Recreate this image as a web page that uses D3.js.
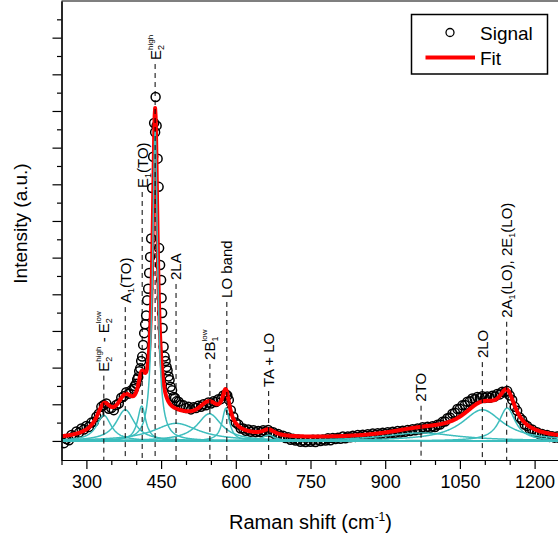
<!DOCTYPE html>
<html>
<head>
<meta charset="utf-8">
<script src="https://cdn.jsdelivr.net/npm/d3@7"></script>
<style>
  body { margin: 0; background: #fff; }
  svg { display: block; font-family: Arial, "Liberation Sans", sans-serif; }
</style>
</head>
<body>
<svg id="chart" width="558" height="541"></svg>
<script>
// measured spectrum (Raman shift in cm-1, intensity in a.u.)
var shift = [255, 260, 265, 270, 275, 280, 285, 290, 295, 300, 305, 310, 315, 320, 325, 330, 335, 340, 345, 350,
  355, 360, 365, 370, 375, 380, 385, 390, 395, 397, 400, 402, 404, 406, 408, 410, 412, 414, 416, 418,
  420, 422, 424, 426, 428, 430, 432, 434, 436, 438, 439, 441, 443, 445, 446, 448, 450, 451, 452, 453,
  455, 457, 459, 461, 463, 465, 467, 469, 472, 475, 478, 481, 485, 490, 495, 500, 505, 510, 515, 520,
  525, 530, 535, 540, 545, 550, 555, 560, 565, 570, 575, 580, 583, 586, 590, 595, 600, 605, 610, 615,
  620, 625, 630, 635, 640, 645, 650, 655, 660, 665, 670, 675, 680, 685, 690, 695, 700, 705, 710, 715,
  720, 725, 730, 735, 740, 745, 750, 755, 760, 765, 770, 775, 780, 785, 790, 795, 800, 805, 810, 815,
  820, 825, 830, 835, 840, 845, 850, 855, 860, 865, 870, 875, 880, 885, 890, 895, 900, 905, 910, 915,
  920, 925, 930, 935, 940, 945, 950, 955, 960, 965, 970, 975, 980, 985, 990, 995, 1000, 1005, 1010, 1015,
  1020, 1025, 1030, 1035, 1040, 1045, 1050, 1055, 1060, 1065, 1070, 1075, 1080, 1085, 1090, 1095, 1100, 1105, 1110, 1115,
  1120, 1125, 1130, 1135, 1140, 1145, 1150, 1155, 1160, 1165, 1170, 1175, 1180, 1185, 1190, 1195, 1200, 1205, 1210, 1215,
  1220, 1225, 1230, 1235, 1240, 1245, 1250];
var signal = [-0.06, 0.05, 0.02, 0.16, 0.13, 0.26, 0.22, 0.34, 0.31, 0.41, 0.38, 0.5, 0.52, 0.66, 0.74, 0.93, 0.98, 1.02, 0.88, 0.9,
  0.84, 0.98, 1.02, 1.18, 1.22, 1.33, 1.29, 1.38, 1.42, 1.5, 1.56, 1.68, 1.74, 1.9, 1.98, 2.18, 2.3, 2.62, 2.94, 3.18,
  3.42, 3.84, 4.15, 4.58, 5.02, 5.52, 6.9, 7.75, 8.67, 8.42, 9.38, 8.6, 7.7, 6.93, 5.26, 4.8, 4.39, 3.9, 3.49, 3.08,
  2.57, 2.3, 2.18, 2.02, 1.92, 1.76, 1.66, 1.48, 1.38, 1.2, 1.17, 1.08, 1.07, 0.98, 0.97, 0.9, 0.93, 0.86, 0.92, 0.9,
  0.96, 0.93, 1.0, 0.97, 1.05, 1.02, 1.08, 1.06, 1.14, 1.14, 1.24, 1.27, 1.24, 1.12, 0.84, 0.66, 0.5, 0.45, 0.34, 0.34,
  0.28, 0.31, 0.25, 0.29, 0.24, 0.27, 0.24, 0.29, 0.26, 0.3, 0.24, 0.24, 0.17, 0.19, 0.13, 0.14, 0.08, 0.1, 0.03, 0.06,
  0.01, 0.04, -0.02, 0.01, -0.03, 0.02, -0.02, 0.03, -0.03, 0.03, 0.0, 0.04, 0.01, 0.07, 0.02, 0.08, 0.05, 0.09, 0.06, 0.12,
  0.07, 0.12, 0.1, 0.14, 0.11, 0.16, 0.12, 0.17, 0.14, 0.18, 0.15, 0.2, 0.16, 0.21, 0.18, 0.22, 0.19, 0.24, 0.2, 0.25,
  0.22, 0.27, 0.23, 0.28, 0.25, 0.3, 0.27, 0.32, 0.29, 0.34, 0.31, 0.37, 0.34, 0.39, 0.36, 0.4, 0.38, 0.44, 0.45, 0.52,
  0.53, 0.62, 0.64, 0.74, 0.77, 0.87, 0.88, 0.97, 0.98, 1.07, 1.08, 1.16, 1.14, 1.2, 1.17, 1.22, 1.17, 1.21, 1.18, 1.23,
  1.21, 1.28, 1.27, 1.34, 1.33, 1.36, 1.24, 1.12, 0.93, 0.82, 0.64, 0.57, 0.45, 0.41, 0.32, 0.31, 0.24, 0.24, 0.18, 0.19,
  0.14, 0.16, 0.11, 0.13, 0.09, 0.12, 0.08];

// fitted Lorentzian components: centre (cm-1), height (a.u.), FWHM (cm-1)
var peakCentre = [335, 378, 411, 438, 480, 547, 580, 666, 972, 1095, 1145];
var peakHeight = [0.7, 0.85, 0.95, 8.45, 0.48, 0.74, 0.89, 0.16, 0.22, 0.85, 0.9];
var peakWidth = [36, 45, 20, 12, 110, 60, 18, 30, 180, 100, 40];
var fitOffset = 0.02;

// mode assignments: position, height of label foot (a.u.), text parts
var modeShift = [335, 378, 412, 438, 480, 548, 582, 666, 972, 1095, 1144];
var modeLabelAt = [1.89, 3.76, 6.9, 10.39, 4.39, 2.21, 3.9, 1.47, 1.07, 2.26, 3.36];
var modeText = [
  [["E", "n"], ["2", "sub"], ["high", "sup"], [" - E", "n"], ["2", "sub"], ["low", "sup"]],
  [["A", "n"], ["1", "sub"], ["(TO)", "n"]],
  [["E", "n"], ["1", "sub"], ["(TO)", "n"]],
  [["E", "n"], ["2", "sub"], ["high", "sup"]],
  [["2LA", "n"]],
  [["2B", "n"], ["1", "sub"], ["low", "sup"]],
  [["LO band", "n"]],
  [["TA + LO", "n"]],
  [["2TO", "n"]],
  [["2LO", "n"]],
  [["2A", "n"], ["1", "sub"], ["(LO), 2E", "n"], ["1", "sub"], ["(LO)", "n"]]
];

// axis ticks
var xMajor = [300, 450, 600, 750, 900, 1050, 1200];
var xMinor = [250, 350, 400, 500, 550, 650, 700, 800, 850, 950, 1000, 1100, 1150, 1250];
var yMajor = [0, 1, 2, 3, 4, 5, 6, 7, 8, 9, 10, 11];
var yMinor = [0.5, 1.5, 2.5, 3.5, 4.5, 5.5, 6.5, 7.5, 8.5, 9.5, 10.5, 11.5];

var cyan = "#3dbdbd";

// scales
var x = d3.scaleLinear().domain([250, 1250]).range([61.5, 559.5]);
var y = d3.scaleLinear().domain([-0.52, 12]).range([460, 1]);

var svg = d3.select("#chart");

svg.append("clipPath")
  .attr("id", "plot-clip")
  .append("rect")
  .attr("x", x(250)).attr("y", y(12))
  .attr("width", x(1250) - x(250)).attr("height", y(-0.52) - y(12));

// components and fit evaluated on a 1 cm-1 grid
var grid = d3.range(250, 1250.5, 1);
function lorentz(k, v) {
  var h = peakWidth[k] / 2;
  return peakHeight[k] / (1 + ((v - peakCentre[k]) / h) * ((v - peakCentre[k]) / h));
}
var fit = grid.map(function(v) {
  return [v, fitOffset + d3.sum(peakCentre, function(c, k) { return lorentz(k, v); })];
});

var plot = svg.append("g").attr("clip-path", "url(#plot-clip)");

// signal circles
plot.append("g")
  .selectAll("circle")
  .data(shift)
  .enter()
  .append("circle")
  .attr("cx", function(d) { return x(d); })
  .attr("cy", function(d, i) { return y(signal[i]); })
  .attr("r", 4.5)
  .attr("fill", "none")
  .attr("stroke", "#000")
  .attr("stroke-width", 1.5);

var line = d3.line()
  .x(function(d) { return x(d[0]); })
  .y(function(d) { return y(d[1]); });

// fit
plot.append("path")
  .datum(fit)
  .attr("d", line)
  .attr("fill", "none")
  .attr("stroke", "#ff0000")
  .attr("stroke-width", 4)
  .attr("stroke-linejoin", "round");

// baseline + components
plot.append("path")
  .datum([[250, 0], [1250, 0]])
  .attr("d", line)
  .attr("fill", "none")
  .attr("stroke", cyan)
  .attr("stroke-width", 1.6);

plot.append("g")
  .selectAll("path")
  .data(peakCentre)
  .enter()
  .append("path")
  .attr("d", function(c, k) {
    return line(grid.map(function(v) { return [v, lorentz(k, v)]; }));
  })
  .attr("fill", "none")
  .attr("stroke", cyan)
  .attr("stroke-width", 1.5);

// mode markers
var modes = svg.append("g");
modeShift.forEach(function(s, i) {
  modes.append("line")
    .attr("x1", x(s)).attr("x2", x(s))
    .attr("y1", y(modeLabelAt[i]) + 4).attr("y2", y(-0.52))
    .attr("stroke", "#000")
    .attr("stroke-width", 1)
    .attr("stroke-dasharray", "5,4");

  var text = modes.append("text")
    .attr("font-size", 15)
    .attr("transform", "translate(" + (x(s) + 5.4) + "," + y(modeLabelAt[i]) + ") rotate(-90)");
  var level = 0, lastSub = null;
  modeText[i].forEach(function(p) {
    var t = text.append("tspan").text(p[0]);
    var target = p[1] === "sub" ? 3 : (p[1] === "sup" ? -8 : 0);
    if (p[1] === "sub") t.attr("font-size", 9);
    if (p[1] === "sup") t.attr("font-size", 8);
    t.attr("dy", target - level);
    level = target;
    if (p[1] === "sup" && lastSub) t.attr("dx", -lastSub.node().getComputedTextLength());
    lastSub = p[1] === "sub" ? t : null;
  });
});

// axes
var xAxis = svg.append("g")
  .attr("transform", "translate(0," + y(-0.52) + ")")
  .call(d3.axisBottom(x).tickValues(xMajor).tickFormat(d3.format("d"))
    .tickSize(9).tickSizeOuter(0).tickPadding(6));
svg.append("g")
  .attr("transform", "translate(0," + y(-0.52) + ")")
  .call(d3.axisBottom(x).tickValues(xMinor).tickSize(5).tickSizeOuter(0).tickFormat(""));
svg.append("g")
  .attr("transform", "translate(" + x(250) + ",0)")
  .call(d3.axisLeft(y).tickValues(yMajor).tickSize(9).tickSizeOuter(0).tickFormat(""));
svg.append("g")
  .attr("transform", "translate(" + x(250) + ",0)")
  .call(d3.axisLeft(y).tickValues(yMinor).tickSize(4.5).tickSizeOuter(0).tickFormat(""));

svg.selectAll(".domain, .tick line").attr("stroke", "#000").attr("stroke-width", 1.2);
xAxis.selectAll("text")
  .attr("font-size", 18)
  .attr("font-family", "Arial, 'Liberation Sans', sans-serif")
  .attr("fill", "#000");

// top frame
svg.append("line")
  .attr("x1", x(250)).attr("x2", x(1250))
  .attr("y1", y(12)).attr("y2", y(12))
  .attr("stroke", "#000")
  .attr("stroke-width", 1.2);

// x label
var xLabel = svg.append("text")
  .attr("x", (x(250) + x(1250)) / 2)
  .attr("y", 529)
  .attr("text-anchor", "middle")
  .attr("font-size", 20)
  .text("Raman shift (cm");
xLabel.append("tspan").attr("font-size", 12).attr("dy", -8).text("-1");
xLabel.append("tspan").attr("dy", 8).text(")");

// y label
svg.append("text")
  .attr("transform", "translate(27," + ((y(12) + y(-0.52)) / 2 - 7) + ") rotate(-90)")
  .attr("text-anchor", "middle")
  .attr("font-size", 19)
  .text("Intensity (a.u.)");

// legend
var legend = svg.append("g");
legend.append("rect")
  .attr("x", 411.5).attr("y", 14.5)
  .attr("width", 136).attr("height", 59.5)
  .attr("fill", "#fff")
  .attr("stroke", "#000")
  .attr("stroke-width", 1.5);
legend.append("circle")
  .attr("cx", 450).attr("cy", 32.5).attr("r", 4)
  .attr("fill", "none").attr("stroke", "#000").attr("stroke-width", 1.3);
legend.append("text")
  .attr("x", 480).attr("y", 39.5)
  .attr("font-size", 19)
  .text("Signal");
legend.append("line")
  .attr("x1", 425.5).attr("x2", 475)
  .attr("y1", 57.5).attr("y2", 57.5)
  .attr("stroke", "#ff0000").attr("stroke-width", 4);
legend.append("text")
  .attr("x", 480).attr("y", 65)
  .attr("font-size", 19)
  .text("Fit");
</script>
</body>
</html>
